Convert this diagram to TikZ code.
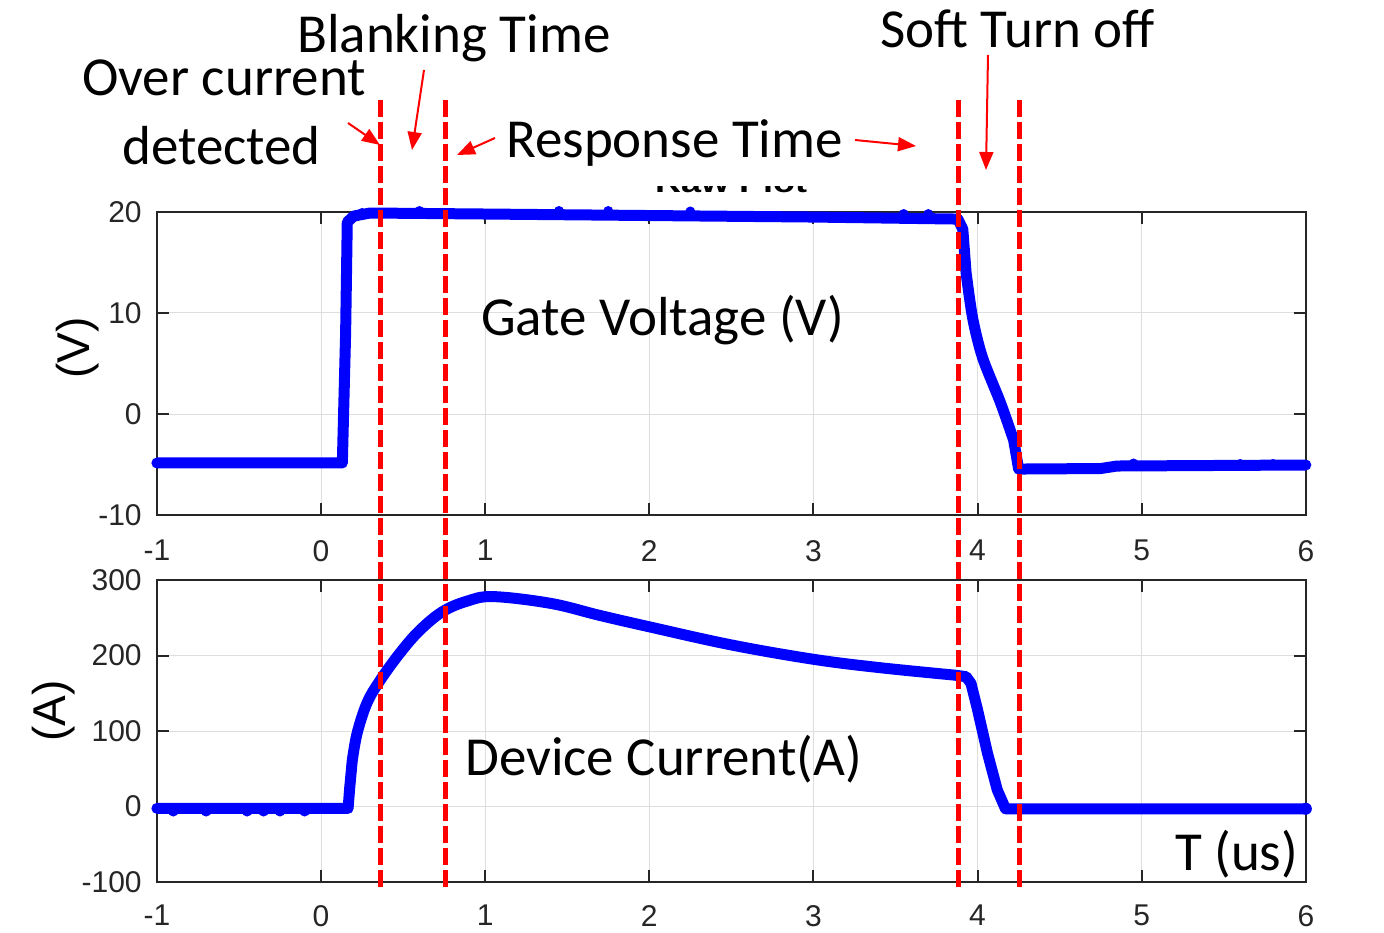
\documentclass[tikz,border=0pt]{standalone}
\usepackage{fontspec}
\setmainfont{Carlito}
\newfontfamily\axisfont{Liberation Sans}
\usetikzlibrary{arrows.meta}
\definecolor{plotblue}{RGB}{0,0,255}
\definecolor{markred}{RGB}{255,0,0}
\definecolor{axisgray}{RGB}{38,38,38}
\definecolor{gridgray}{RGB}{222,222,222}

\begin{document}
\begin{tikzpicture}[x=1pt,y=-1pt]
\tikzstyle{every node}+=[inner sep=0pt]
\tikzstyle{annot}=[font=\fontsize{55}{66}\selectfont, anchor=base west]
\tikzstyle{ticklab}=[font=\axisfont\fontsize{30}{36}\selectfont, text=axisgray]
\tikzstyle{unitlab}=[font=\axisfont\fontsize{46}{55}\selectfont, rotate=90]
\tikzstyle{frame}=[draw=axisgray, line width=2pt]
\tikzstyle{gridline}=[draw=gridgray, line width=1pt]
\tikzstyle{trace}=[draw=plotblue, line width=11pt, line join=round, line cap=round]
\tikzstyle{noise}=[fill=plotblue]
\tikzstyle{marker}=[draw=markred, line width=5pt, dash pattern=on 17pt off 5pt]
\tikzstyle{pointer}=[draw=markred, line width=2pt, -{Triangle[length=18pt,width=14pt]}]
\useasboundingbox (0,0) rectangle (1384,933);

\begin{scope}[shift={(321,414)},x=164.14pt,y=10.1pt]
\foreach \t in {0,...,5} \draw[gridline] (\t,-10) -- (\t,20);
\foreach \v in {0,10} \draw[gridline] (-1,\v) -- (6,\v);
\foreach \t in {0,...,5} {
  \draw[frame] (\t,-10) -- ++(0pt,12pt);
  \draw[frame] (\t,20) -- ++(0pt,-12pt);
}
\foreach \v in {0,10} {
  \draw[frame] (-1,\v) -- ++(12pt,0pt);
  \draw[frame] (6,\v) -- ++(-12pt,0pt);
}
\draw[frame] (-1,-10) rectangle (6,20);
\foreach \t in {-1,...,6} \node[ticklab, anchor=north] (vx\t) at ([yshift=-25pt]\t,-10) {\t};
\foreach \v in {-10,0,10,20} \node[ticklab, anchor=east] (vy\v) at ([xshift=-15pt]-1,\v) {\v};
\draw[trace] (-1,-4.85) -- (0.13,-4.85) -- (0.15,8) -- (0.16,19) -- (0.2,19.6) -- (0.3,19.9) -- (1,19.8) -- (2,19.65) -- (3,19.5) -- (3.88,19.3) -- (3.91,18.3)
  -- plot[smooth, tension=0.5] coordinates {(3.93,14) (3.97,9.5) (4.03,5.6) (4.14,1.1) (4.22,-2.6)} -- (4.25,-5.45) -- (4.75,-5.4) -- (4.85,-5.15) -- (6,-5.05);
\foreach \t/\v in {0.25/19.9,0.6/20.1,1.45/20.1,1.75/20.1,2.25/20.05,3.55/19.8,3.7/19.8,4.95/-4.9,5.6/-4.95,5.8/-4.95}
  \fill[noise] (\t,\v) circle (5pt);
\end{scope}

\begin{scope}[shift={(321,806.5)},x=164.14pt,y=0.755pt]
\foreach \t in {0,...,5} \draw[gridline] (\t,-100) -- (\t,300);
\foreach \v in {0,100,200} \draw[gridline] (-1,\v) -- (6,\v);
\foreach \t in {0,...,5} {
  \draw[frame] (\t,-100) -- ++(0pt,12pt);
  \draw[frame] (\t,300) -- ++(0pt,-12pt);
}
\foreach \v in {0,100,200} {
  \draw[frame] (-1,\v) -- ++(12pt,0pt);
  \draw[frame] (6,\v) -- ++(-12pt,0pt);
}
\draw[frame] (-1,-100) rectangle (6,300);
\foreach \t in {-1,...,6} \node[ticklab, anchor=north] (ax\t) at ([yshift=-23pt]\t,-100) {\t};
\foreach \v in {-100,0,100,200,300} \node[ticklab, anchor=east] (ay\v) at ([xshift=-15pt]-1,\v) {\v};
\draw[trace] (-1,-2.5) -- (0.165,-2.5) -- (0.175,25)
  -- plot[smooth, tension=0.6] coordinates {(0.19,60) (0.22,97) (0.28,137) (0.36,167) (0.48,203) (0.6,233) (0.74,258) (0.89,272) (1.05,278) (1.4,269) (1.7,253) (2,238) (2.5,214) (3,195) (3.4,184) (3.86,174)}
  -- (3.93,172) -- (3.96,163) -- (4.0,128) -- (4.06,71) -- (4.12,22) -- (4.17,-3) -- (6,-3);
\foreach \t in {-0.9,-0.7,-0.45,-0.35,-0.25,-0.1} \fill[noise] (\t,-6) circle (5.5pt);
\fill[noise] (6,-3) circle (6pt);
\end{scope}

\foreach \x in {380,445.5,958,1019} \draw[marker] (\x,100) -- (\x,887);

\begin{scope}
\clip (640,187) rectangle (830,197);
\node[font=\axisfont\bfseries\fontsize{36}{43}\selectfont, anchor=base west, yscale=0.8] (rawtitle) at (655,193) {Raw Plot};
\end{scope}

\node[unitlab] (vunit) at (78,348) {(V)};
\node[unitlab] (aunit) at (54,711) {(A)};
\node[annot] (blank) at (297,53) {Blanking Time};
\node[annot] (over) at (82,96) {Over current};
\node[annot] (detect) at (122,165) {detected};
\node[annot] (soft) at (880,48) {Soft Turn off};
\node[annot] (resp) at (506,158) {Response Time};
\node[annot] (gate) at (481,335) {Gate Voltage (V)};
\node[annot] (dev) at (465,775) {Device Current(A)};
\node[annot] (tunit) at (1175,870) {T (us)};

\coordinate (ocA) at (348,123);
\coordinate (ocB) at (380,145);
\coordinate (btA) at (424,70);
\coordinate (btB) at (412,150);
\coordinate (rtA) at (495,138);
\coordinate (rtB) at (457,155);
\coordinate (rtC) at (855,140);
\coordinate (rtD) at (916,146);
\coordinate (stA) at (988,55);
\coordinate (stB) at (986,170);
\draw[pointer] (ocA) -- (ocB);
\draw[pointer] (btA) -- (btB);
\draw[pointer] (rtA) -- (rtB);
\draw[pointer] (rtC) -- (rtD);
\draw[pointer] (stA) -- (stB);
\end{tikzpicture}
\end{document}
